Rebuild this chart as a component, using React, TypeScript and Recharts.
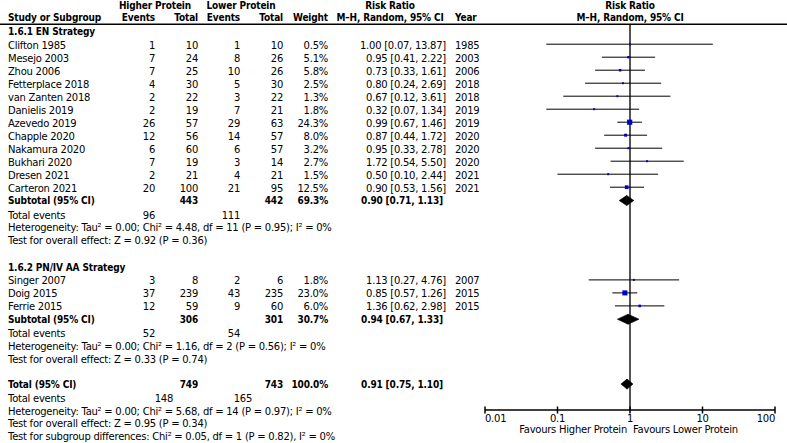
import React from "react";
import { ComposedChart, ReferenceArea, ReferenceLine, Scatter, XAxis, YAxis } from "recharts";

// 1.6.1 EN Strategy
const enStudies = ["Clifton 1985", "Mesejo 2003", "Zhou 2006", "Fetterplace 2018", "van Zanten 2018", "Danielis 2019", "Azevedo 2019", "Chapple 2020", "Nakamura 2020", "Bukhari 2020", "Dresen 2021", "Carteron 2021"];
const enHighEvents = [1, 7, 7, 4, 2, 2, 26, 12, 6, 7, 2, 20];
const enHighTotal = [10, 24, 25, 30, 22, 19, 57, 56, 60, 19, 21, 100];
const enLowEvents = [1, 8, 10, 5, 3, 7, 29, 14, 6, 3, 4, 21];
const enLowTotal = [10, 26, 26, 30, 22, 21, 63, 57, 57, 14, 21, 95];
const enWeight = [0.5, 5.1, 5.8, 2.5, 1.3, 1.8, 24.3, 8.0, 3.2, 2.7, 1.5, 12.5];
const enRR = [1.0, 0.95, 0.73, 0.8, 0.67, 0.32, 0.99, 0.87, 0.95, 1.72, 0.5, 0.9];
const enLower = [0.07, 0.41, 0.33, 0.24, 0.12, 0.07, 0.67, 0.44, 0.33, 0.54, 0.1, 0.53];
const enUpper = [13.87, 2.22, 1.61, 2.69, 3.61, 1.34, 1.46, 1.72, 2.78, 5.5, 2.44, 1.56];
const enYear = [1985, 2003, 2006, 2018, 2018, 2019, 2019, 2020, 2020, 2020, 2021, 2021];

// 1.6.2 PN/IV AA Strategy
const pnStudies = ["Singer 2007", "Doig 2015", "Ferrie 2015"];
const pnHighEvents = [3, 37, 12];
const pnHighTotal = [8, 239, 59];
const pnLowEvents = [2, 43, 9];
const pnLowTotal = [6, 235, 60];
const pnWeight = [1.8, 23.0, 6.0];
const pnRR = [1.13, 0.85, 1.36];
const pnLower = [0.27, 0.57, 0.62];
const pnUpper = [4.76, 1.26, 2.98];
const pnYear = [2007, 2015, 2015];

// subgroup summaries
const subgroupNames = ["1.6.1 EN Strategy", "1.6.2 PN/IV AA Strategy"];
const subHighTotal = [443, 306];
const subLowTotal = [442, 301];
const subWeight = [69.3, 30.7];
const subRR = [0.9, 0.94];
const subLower = [0.71, 0.67];
const subUpper = [1.13, 1.33];
const subHighEvents = [96, 52];
const subLowEvents = [111, 54];
const subHeterogeneity = [
  "Heterogeneity: Tau² = 0.00; Chi² = 4.48, df = 11 (P = 0.95); I² = 0%",
  "Heterogeneity: Tau² = 0.00; Chi² = 1.16, df = 2 (P = 0.56); I² = 0%",
];
const subEffect = ["Test for overall effect: Z = 0.92 (P = 0.36)", "Test for overall effect: Z = 0.33 (P = 0.74)"];

// overall
const totalNumbers = [749, 743];
const totalEvents = [148, 165];
const totalWeight = 100.0;
const totalRR = [0.91, 0.75, 1.1];
const totalNotes = [
  "Heterogeneity: Tau² = 0.00; Chi² = 5.68, df = 14 (P = 0.97); I² = 0%",
  "Test for overall effect: Z = 0.95 (P = 0.34)",
  "Test for subgroup differences: Chi² = 0.05, df = 1 (P = 0.82), I² = 0%",
];

const axisTicks = [0.01, 0.1, 1, 10, 100];
const axisTickLabels = ["0.01", "0.1", "1", "10", "100"];
const favours = ["Favours Higher Protein", "Favours Lower Protein"];

const groups = [
  { name: subgroupNames[0], studies: enStudies, he: enHighEvents, ht: enHighTotal, le: enLowEvents, lt: enLowTotal, w: enWeight, rr: enRR, lo: enLower, hi: enUpper, year: enYear },
  { name: subgroupNames[1], studies: pnStudies, he: pnHighEvents, ht: pnHighTotal, le: pnLowEvents, lt: pnLowTotal, w: pnWeight, rr: pnRR, lo: pnLower, hi: pnUpper, year: pnYear },
];

const FONT = "'DejaVu Sans', Verdana, sans-serif";
const BOLD_FONT = "'DejaVu Sans Condensed', 'DejaVu Sans', sans-serif";
const BLUE = "#0000cc";
const fmtCI = (r: number, l: number, h: number) => `${r.toFixed(2)} [${l.toFixed(2)}, ${h.toFixed(2)}]`;

// build row layout
type StudyRow = { y: number; name: string; he: number; ht: number; le: number; lt: number; w: number; rr: number; lo: number; hi: number; year: number };
type SumRow = { y: number; ht: number; lt: number; w: number; rr: number; lo: number; hi: number; label: string };
const studyRows: StudyRow[] = [];
const sumRows: SumRow[] = [];
const titleRows: { y: number; text: string }[] = [];
const eventRows: { y: number; he: number; le: number; hx: number; lx: number }[] = [];
const noteRows: { y: number; text: string }[] = [];

let cy = 31.7;
groups.forEach((g, gi) => {
  titleRows.push({ y: cy, text: g.name });
  cy += 13.3;
  g.studies.forEach((s, i) => {
    studyRows.push({ y: cy, name: s, he: g.he[i], ht: g.ht[i], le: g.le[i], lt: g.lt[i], w: g.w[i], rr: g.rr[i], lo: g.lo[i], hi: g.hi[i], year: g.year[i] });
    cy += 13;
  });
  cy += -0.5;
  sumRows.push({ y: cy, ht: subHighTotal[gi], lt: subLowTotal[gi], w: subWeight[gi], rr: subRR[gi], lo: subLower[gi], hi: subUpper[gi], label: "Subtotal (95% CI)" });
  cy += 14.5;
  eventRows.push({ y: cy, he: subHighEvents[gi], le: subLowEvents[gi], hx: 155, lx: 240 });
  cy += 12.7;
  noteRows.push({ y: cy, text: subHeterogeneity[gi] });
  cy += 12.7;
  noteRows.push({ y: cy, text: subEffect[gi] });
  cy += 27;
});
cy -= 2;
sumRows.push({ y: cy, ht: totalNumbers[0], lt: totalNumbers[1], w: totalWeight, rr: totalRR[0], lo: totalRR[1], hi: totalRR[2], label: "Total (95% CI)" });
cy += 14.3;
eventRows.push({ y: cy, he: totalEvents[0], le: totalEvents[1], hx: 173, lx: 252 });
totalNotes.forEach((t) => {
  cy += 12.7;
  noteRows.push({ y: cy, text: t });
});

const MARK_SHIFT = -0.8;
const pointData = studyRows.map((r) => ({ x: r.rr, y: r.y + MARK_SHIFT, w: r.w }));

const Square = (props: any) => {
  const { cx, cy, payload } = props;
  const s = Math.max(2, 1.05 * Math.sqrt(payload.w));
  return <rect x={cx - s / 2} y={cy - s / 2} width={s} height={s} fill={BLUE} />;
};

// each summary diamond = two triangles meeting at the pooled estimate
const LeftHalf = (props: any) => {
  const { x, y, width, height } = props;
  return <polygon points={`${x},${y + height / 2} ${x + width},${y} ${x + width},${y + height}`} fill="#000" stroke="#000" strokeWidth={0.6} />;
};
const RightHalf = (props: any) => {
  const { x, y, width, height } = props;
  return <polygon points={`${x},${y} ${x + width},${y + height / 2} ${x},${y + height}`} fill="#000" stroke="#000" strokeWidth={0.6} />;
};

const AxisTick = (props: any) => {
  const { x, y, payload, index } = props;
  const anchor = index === 0 ? "start" : index === axisTicks.length - 1 ? "end" : "middle";
  return (
    <g>
      <line x1={x} x2={x} y1={y - 3.5} y2={y + 3.5} stroke="#000" strokeWidth={1.5} />
      <text x={x} y={y + 8.5} textAnchor={anchor} dominantBaseline="central" fontSize={10} fontFamily={FONT} letterSpacing={-0.25} fill="#000">
        {axisTickLabels[axisTicks.indexOf(payload.value)]}
      </text>
    </g>
  );
};

const T = ({ x, y, children, anchor = "start", bold = false }: any) => (
  <text
    x={x}
    y={y}
    textAnchor={anchor}
    dominantBaseline="central"
    fontSize={10}
    fontFamily={bold ? BOLD_FONT : FONT}
    fontWeight={bold ? "bold" : "normal"}
    style={bold ? { fontStretch: "condensed" } : undefined}
    letterSpacing={bold ? -0.15 : -0.25}
    fill="#000"
  >
    {children}
  </text>
);

const COL = { name: 8, he: 155, ht: 198, le: 240, lt: 283, w: 328, rr: 446, year: 455 };
const DH = 5;

export default function App() {
  return (
    <div style={{ position: "absolute", left: 0, top: 0, width: 787, height: 443, background: "#fff" }}>
      <ComposedChart width={787} height={443} margin={{ top: 24, right: 12, bottom: 13, left: 485 }}>
        <XAxis
          dataKey="x"
          type="number"
          scale="log"
          domain={[0.01, 100]}
          ticks={axisTicks}
          allowDataOverflow
          height={20}
          tickSize={0}
          tickMargin={0}
          tickLine={false}
          axisLine={{ stroke: "#000", strokeWidth: 1.5 }}
          tick={<AxisTick />}
          interval={0}
        />
        <YAxis dataKey="y" type="number" domain={[24, 410]} reversed hide allowDataOverflow />
        <ReferenceLine x={1} stroke="#555" strokeWidth={2} zIndex={50} />
        {studyRows.map((r, i) => (
          <ReferenceLine
            key={`ci-${i}`}
            segment={[
              { x: r.lo, y: r.y + MARK_SHIFT },
              { x: r.hi, y: r.y + MARK_SHIFT },
            ]}
            stroke="#000"
            strokeWidth={1}
            zIndex={60}
          />
        ))}
        {sumRows.map((r, i) => (
          <ReferenceArea key={`dl-${i}`} x1={r.lo} x2={r.rr} y1={r.y - DH} y2={r.y + DH} shape={<LeftHalf />} zIndex={450} />
        ))}
        {sumRows.map((r, i) => (
          <ReferenceArea key={`dr-${i}`} x1={r.rr} x2={r.hi} y1={r.y - DH} y2={r.y + DH} shape={<RightHalf />} zIndex={450} />
        ))}
        <Scatter data={pointData} shape={<Square />} isAnimationActive={false} />
      </ComposedChart>

      <svg width={787} height={443} style={{ position: "absolute", left: 0, top: 0, pointerEvents: "none" }}>
        {/* headers */}
        <T x={155} y={5.3} anchor="middle" bold>Higher Protein</T>
        <T x={241} y={5.3} anchor="middle" bold>Lower Protein</T>
        <T x={390} y={5.3} anchor="middle" bold>Risk Ratio</T>
        <T x={630} y={5.3} anchor="middle" bold>Risk Ratio</T>
        <T x={COL.name} y={17.5} bold>Study or Subgroup</T>
        <T x={COL.he} y={17.5} anchor="end" bold>Events</T>
        <T x={COL.ht} y={17.5} anchor="end" bold>Total</T>
        <T x={COL.le} y={17.5} anchor="end" bold>Events</T>
        <T x={COL.lt} y={17.5} anchor="end" bold>Total</T>
        <T x={COL.w} y={17.5} anchor="end" bold>Weight</T>
        <T x={390} y={17.5} anchor="middle" bold>M–H, Random, 95% CI</T>
        <T x={COL.year} y={17.5} bold>Year</T>
        <T x={630} y={17.5} anchor="middle" bold>M–H, Random, 95% CI</T>
        <line x1={0} x2={787} y1={24.3} y2={24.3} stroke="#000" strokeWidth={1.5} />

        {titleRows.map((r, i) => (
          <T key={`t-${i}`} x={COL.name} y={r.y} bold>{r.text}</T>
        ))}
        {studyRows.map((r, i) => (
          <g key={`s-${i}`}>
            <T x={COL.name} y={r.y}>{r.name}</T>
            <T x={COL.he} y={r.y} anchor="end">{r.he}</T>
            <T x={COL.ht} y={r.y} anchor="end">{r.ht}</T>
            <T x={COL.le} y={r.y} anchor="end">{r.le}</T>
            <T x={COL.lt} y={r.y} anchor="end">{r.lt}</T>
            <T x={COL.w} y={r.y} anchor="end">{`${r.w.toFixed(1)}%`}</T>
            <T x={COL.rr} y={r.y} anchor="end">{fmtCI(r.rr, r.lo, r.hi)}</T>
            <T x={COL.year} y={r.y}>{r.year}</T>
          </g>
        ))}
        {sumRows.map((r, i) => (
          <g key={`sum-${i}`}>
            <T x={COL.name} y={r.y} bold>{r.label}</T>
            <T x={COL.ht} y={r.y} anchor="end" bold>{r.ht}</T>
            <T x={COL.lt} y={r.y} anchor="end" bold>{r.lt}</T>
            <T x={COL.w} y={r.y} anchor="end" bold>{`${r.w.toFixed(1)}%`}</T>
            <T x={COL.rr - 3} y={r.y} anchor="end" bold>{fmtCI(r.rr, r.lo, r.hi)}</T>
          </g>
        ))}
        {eventRows.map((r, i) => (
          <g key={`e-${i}`}>
            <T x={COL.name} y={r.y}>Total events</T>
            <T x={r.hx} y={r.y} anchor="end">{r.he}</T>
            <T x={r.lx} y={r.y} anchor="end">{r.le}</T>
          </g>
        ))}
        {noteRows.map((r, i) => (
          <T key={`n-${i}`} x={COL.name} y={r.y}>{r.text}</T>
        ))}
        <T x={627} y={429.5} anchor="end">{favours[0]}</T>
        <T x={633} y={429.5}>{favours[1]}</T>
      </svg>
    </div>
  );
}
